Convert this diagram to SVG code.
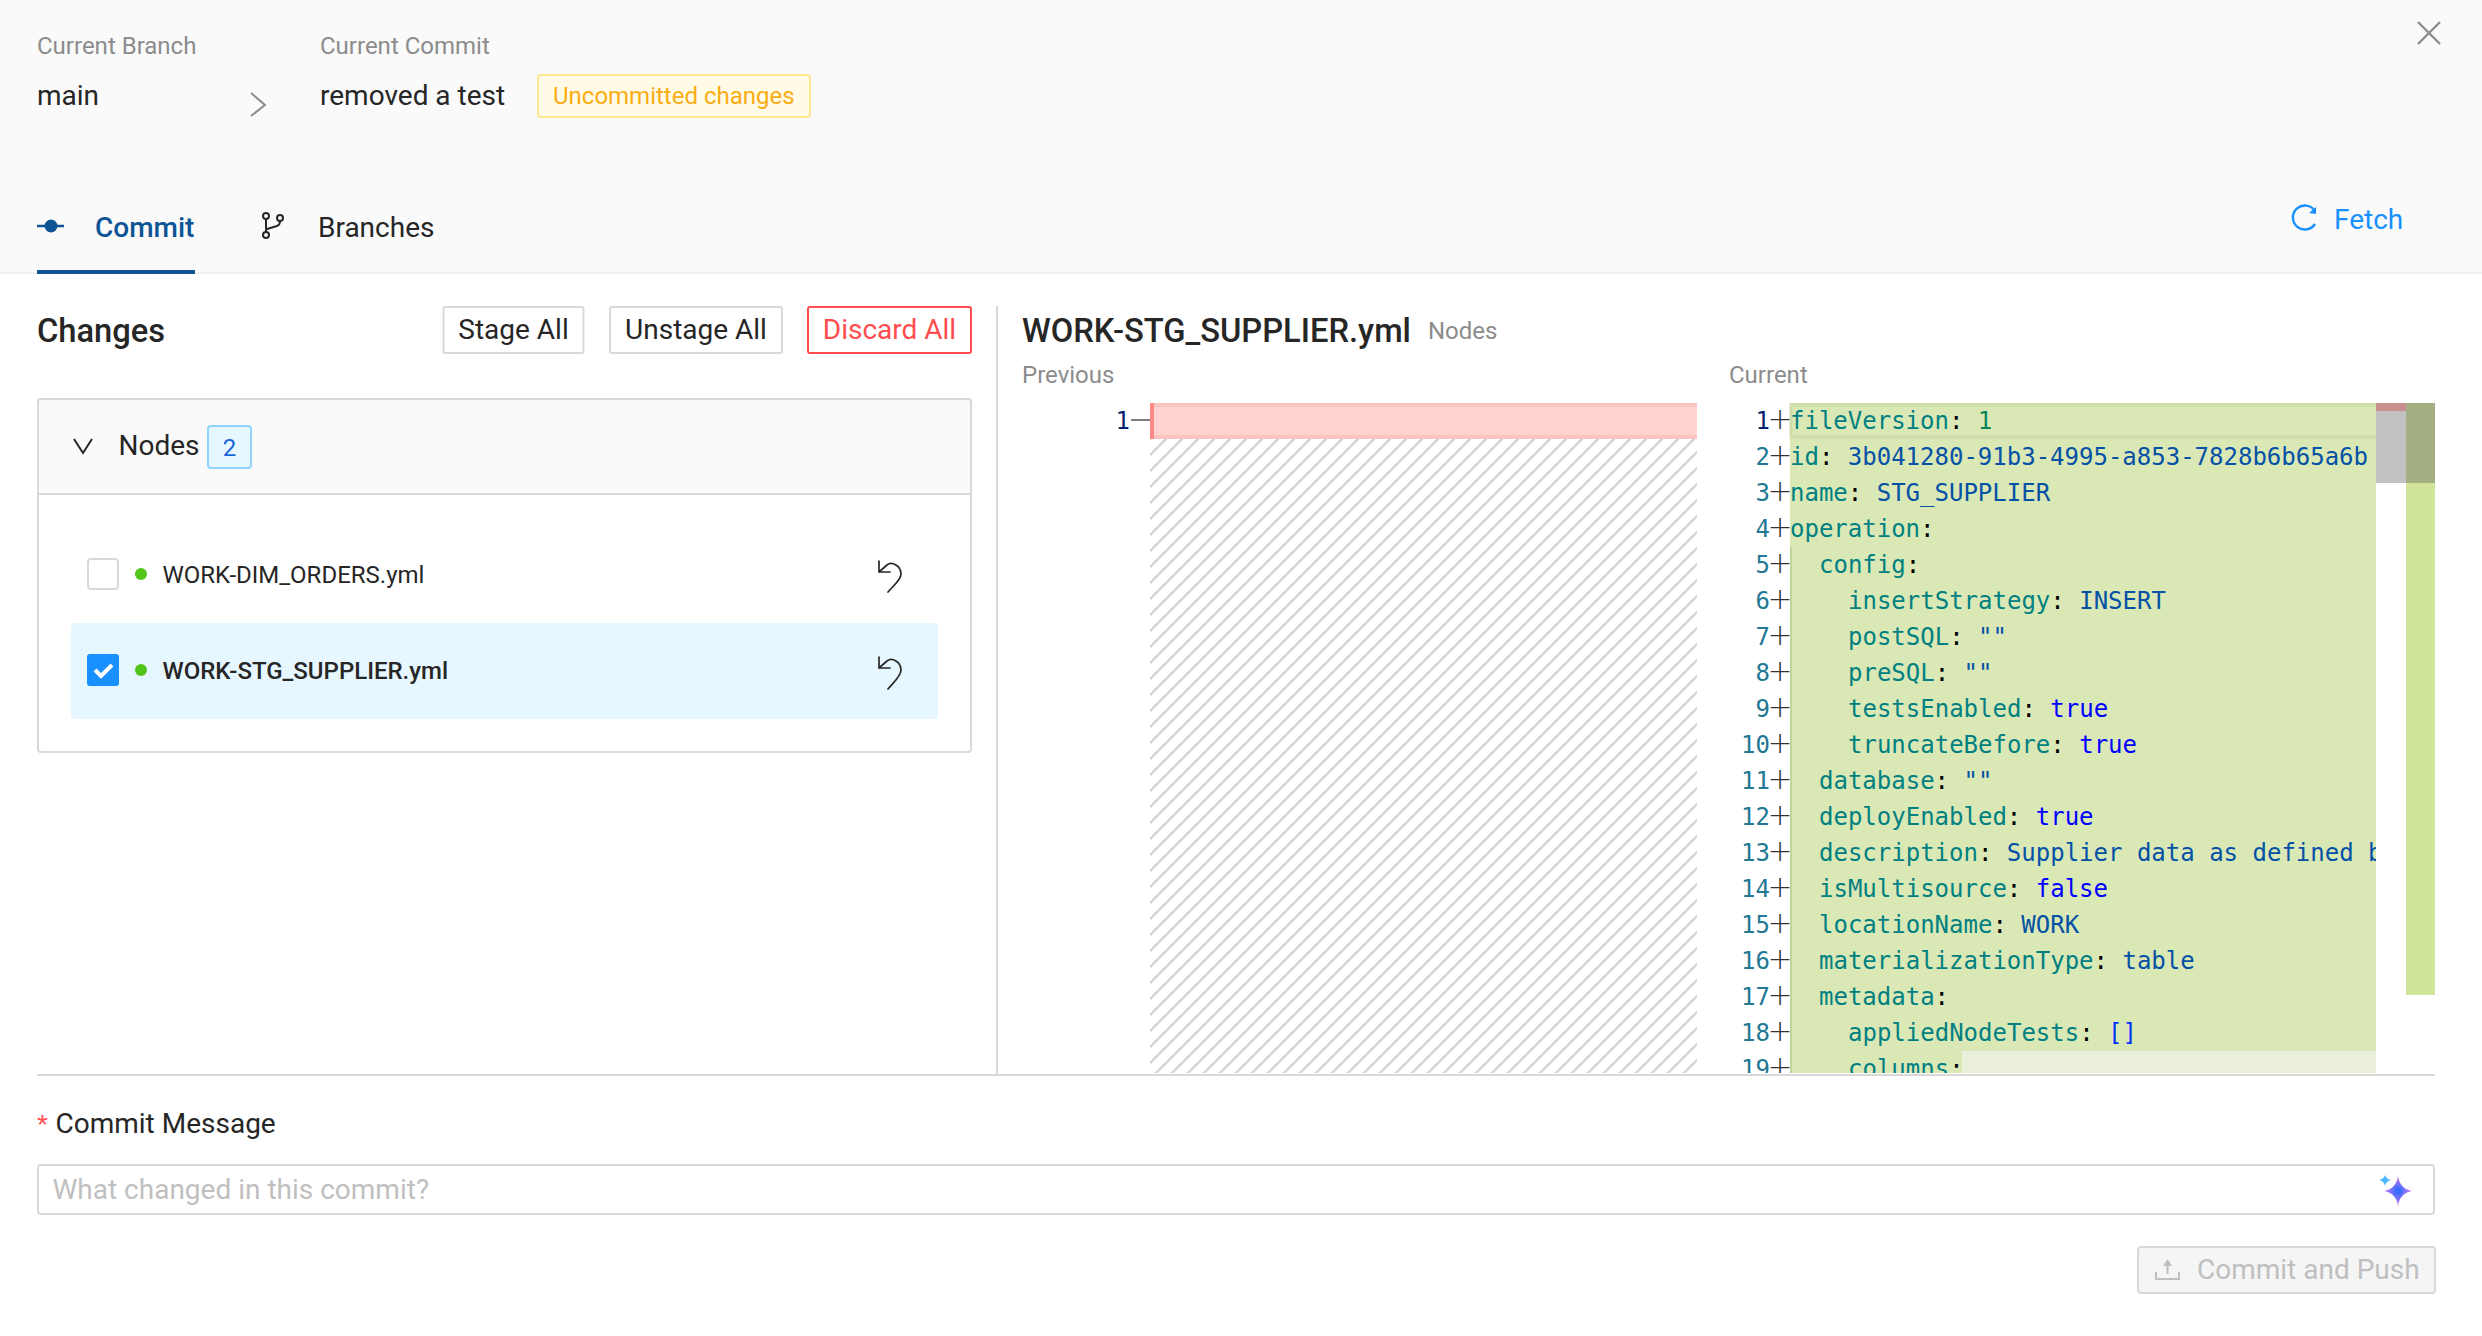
<svg xmlns="http://www.w3.org/2000/svg" width="2482" height="1336" viewBox="0 0 2482 1336">
<style>
text{font-family:Roboto,"Liberation Sans",sans-serif;font-size:28px;fill:#262626}
.s{font-size:24px;fill:#8c8c8c}
.box{fill:#fff;stroke:#d9d9d9;stroke-width:2}
.ln{stroke:#d9d9d9;stroke-width:2;fill:none}
.ic{fill:none;stroke:#262626;stroke-width:2;stroke-linecap:round;stroke-linejoin:round}
.un{fill:none;stroke:#262626;stroke-width:1.700;stroke-linecap:round;stroke-linejoin:round}
.c,.n,.p{font-family:"DejaVu Sans Mono","Liberation Mono",monospace;font-size:24px}
.c{fill:#000}
.n{fill:#237893;text-anchor:end}
.p{font-family:"DejaVu Sans",sans-serif;font-weight:200;font-size:30px;fill:#333;text-anchor:middle}
.k{fill:#008080}.v{fill:#0451a5}.t{fill:#0000ff}.m{fill:#098658}.b{fill:#0431fa}
</style>
<defs>
<pattern id="hatch" width="16" height="16" patternUnits="userSpaceOnUse" patternTransform="translate(1150 439)">
<path d="M-4 4L4 -4M0 16L16 0M12 20L20 12" stroke="#d0d0d0" stroke-width="2.2" fill="none"/>
</pattern>
<clipPath id="codeclip"><rect x="1700" y="403" width="676" height="670"/></clipPath>
<radialGradient id="spark" cx="0.5" cy="0.5" r="0.5"><stop offset="0.15" stop-color="#3a6bff"/><stop offset="0.8" stop-color="#b57bf5"/></radialGradient>
</defs>
<rect width="2482" height="1336" fill="#fff"/>

<g id="header">
<rect width="2482" height="272" fill="#fafafa"/>
<rect y="272" width="2482" height="2" fill="#f0f0f0"/>
<text class="s" x="37" y="54">Current Branch</text>
<text x="37" y="105">main</text>
<path d="M251 93L265 105L251 116" fill="none" stroke="#8c8c8c" stroke-width="2"/>
<text class="s" x="320" y="54">Current Commit</text>
<text x="320" y="105">removed a test</text>
<rect x="538" y="75" width="272" height="42" rx="3" fill="#fffbe6" stroke="#ffe58f" stroke-width="2"/>
<text x="553" y="104" style="font-size:24px;fill:#faad14">Uncommitted changes</text>
<path d="M2418 22L2440 44M2440 22L2418 44" stroke="#8c8c8c" stroke-width="2.400" fill="none"/>
</g>

<g id="tabs">
<g id="tab-commit">
<path d="M37 226H64" stroke="#0f5595" stroke-width="2.500"/>
<circle cx="51" cy="226" r="6.500" fill="#0f5595"/>
<text x="95" y="237" style="fill:#0f5595;font-weight:500">Commit</text>
<rect x="37" y="270" width="158" height="4" fill="#0f5595"/>
</g>
<g id="tab-branches">
<g class="ic"><circle cx="266" cy="216" r="3"/><circle cx="280" cy="218" r="3"/><circle cx="266" cy="235" r="3"/><path d="M266 219V232M267 229L277 226Q280 225 280 221"/></g>
<text x="318" y="237">Branches</text>
</g>
<g id="fetch">
<path d="M2315 211A12 12 0 1 0 2315 224" fill="none" stroke="#1890ff" stroke-width="2.400"/>
<path d="M2309 213L2316 214L2316 207Z" fill="#1890ff"/>
<text x="2334" y="229" style="fill:#1890ff">Fetch</text>
</g>
</g>

<g id="changes">
<text x="37" y="342" style="font-size:32.700px;font-weight:500">Changes</text>
<g id="btn-stage"><rect class="box" x="443.500" y="307" width="140" height="46" rx="2"/><text x="513.500" y="339" text-anchor="middle">Stage All</text></g>
<g id="btn-unstage"><rect class="box" x="610" y="307" width="172" height="46" rx="2"/><text x="696" y="339" text-anchor="middle">Unstage All</text></g>
<g id="btn-discard"><rect x="808" y="307" width="163" height="46" rx="2" fill="#fff" stroke="#ff4d4f" stroke-width="2"/><text x="889.500" y="339" text-anchor="middle" style="fill:#ff4d4f">Discard All</text></g>
<rect x="38" y="399" width="933" height="353" rx="3" class="box"/>
<path d="M38 494V402Q38 399 41 399H968Q971 399 971 402V494Z" fill="#fafafa" stroke="#d9d9d9" stroke-width="2"/>
<path d="M74 439L83 453L92 439" fill="none" stroke="#262626" stroke-width="2"/>
<text x="118.500" y="455">Nodes</text>
<rect x="208" y="426" width="43" height="42" rx="3" fill="#e6f7ff" stroke="#91d5ff" stroke-width="2"/>
<text x="229.500" y="456" text-anchor="middle" style="font-size:24px;fill:#1565dc">2</text>
<g id="file-dim-orders">
<rect x="88" y="559" width="30" height="30" rx="3" class="box"/>
<circle cx="141" cy="574" r="6" fill="#52c41a"/>
<text x="162.500" y="583" style="font-size:24px">WORK-DIM_ORDERS.yml</text>
<path class="un" d="M879 561V572H890M879 572L887 565C892 561 901 566 901 574C901 580 894 585 888 592"/>
</g>
<g id="file-stg-supplier">
<rect x="71" y="623" width="867" height="96" rx="4" fill="#e6f7ff"/>
<rect x="87" y="654" width="32" height="32" rx="3" fill="#1890ff"/>
<path d="M95 670L101 676L112 665" fill="none" stroke="#fff" stroke-width="4"/>
<circle cx="141" cy="670" r="6" fill="#52c41a"/>
<text x="162.500" y="679" style="font-size:24px;font-weight:500">WORK-STG_SUPPLIER.yml</text>
<path class="un" d="M879 657V668H890M879 668L887 661C892 657 901 662 901 670C901 676 894 682 888 689"/>
</g>
<rect x="996" y="306" width="2" height="769" fill="#d9d9d9"/>
</g>

<g id="diff-title">
<text x="1022" y="342" style="font-size:32.700px;font-weight:500">WORK-STG_SUPPLIER.yml</text>
<text class="s" x="1428" y="339">Nodes</text>
<text class="s" x="1022" y="383">Previous</text>
<text class="s" x="1729" y="383">Current</text>
</g>

<g id="diff-previous">
<rect x="1150" y="439" width="547" height="634" fill="url(#hatch)"/>
<rect x="1150" y="403" width="547" height="36" fill="#ffd2cf"/>
<path d="M1154 405H1697M1154 437H1697" stroke="#f8c4c2" stroke-width="4"/>
<rect x="1150" y="403" width="4" height="36" fill="#ff8a85"/>
<text class="n" x="1130" y="429" style="fill:#0b216f">1</text>
<path d="M1131 420H1150" stroke="#555" stroke-width="1.500"/>
</g>

<g id="diff-current">
<rect x="1790" y="403" width="586" height="670" fill="#dae8b6"/>
<path d="M1790 405H2376M1790 437H2376" stroke="#d0dfaa" stroke-width="4"/>
<path d="M1791 403V439" stroke="#d0dfaa" stroke-width="3"/>
<rect x="1962" y="1051" width="414" height="22" fill="#ebf0dc"/>
<rect x="1790" y="547" width="2" height="526" fill="#c1d49a"/>
<g clip-path="url(#codeclip)">
<text class="n" x="1770" y="429" style="fill:#0b216f">1</text>
<text class="n" x="1770" y="465">2</text><text class="n" x="1770" y="501">3</text><text class="n" x="1770" y="537">4</text><text class="n" x="1770" y="573">5</text><text class="n" x="1770" y="609">6</text><text class="n" x="1770" y="645">7</text><text class="n" x="1770" y="681">8</text><text class="n" x="1770" y="717">9</text><text class="n" x="1770" y="753">10</text><text class="n" x="1770" y="789">11</text><text class="n" x="1770" y="825">12</text><text class="n" x="1770" y="861">13</text><text class="n" x="1770" y="897">14</text><text class="n" x="1770" y="933">15</text><text class="n" x="1770" y="969">16</text><text class="n" x="1770" y="1005">17</text><text class="n" x="1770" y="1041">18</text><text class="n" x="1770" y="1077">19</text>
<text class="p" x="1780" y="429">+</text><text class="p" x="1780" y="465">+</text><text class="p" x="1780" y="501">+</text><text class="p" x="1780" y="537">+</text><text class="p" x="1780" y="573">+</text><text class="p" x="1780" y="609">+</text><text class="p" x="1780" y="645">+</text><text class="p" x="1780" y="681">+</text><text class="p" x="1780" y="717">+</text><text class="p" x="1780" y="753">+</text><text class="p" x="1780" y="789">+</text><text class="p" x="1780" y="825">+</text><text class="p" x="1780" y="861">+</text><text class="p" x="1780" y="897">+</text><text class="p" x="1780" y="933">+</text><text class="p" x="1780" y="969">+</text><text class="p" x="1780" y="1005">+</text><text class="p" x="1780" y="1041">+</text><text class="p" x="1780" y="1077">+</text>
<text class="c" x="1790" y="429"><tspan class="k">fileVersion</tspan>: <tspan class="m">1</tspan></text>
<text class="c" x="1790" y="465"><tspan class="k">id</tspan>: <tspan class="v">3b041280-91b3-4995-a853-7828b6b65a6b</tspan></text>
<text class="c" x="1790" y="501"><tspan class="k">name</tspan>: <tspan class="v">STG_SUPPLIER</tspan></text>
<text class="c" x="1790" y="537"><tspan class="k">operation</tspan>:</text>
<text class="c" x="1819" y="573"><tspan class="k">config</tspan>:</text>
<text class="c" x="1848" y="609"><tspan class="k">insertStrategy</tspan>: <tspan class="v">INSERT</tspan></text>
<text class="c" x="1848" y="645"><tspan class="k">postSQL</tspan>: <tspan class="v">""</tspan></text>
<text class="c" x="1848" y="681"><tspan class="k">preSQL</tspan>: <tspan class="v">""</tspan></text>
<text class="c" x="1848" y="717"><tspan class="k">testsEnabled</tspan>: <tspan class="t">true</tspan></text>
<text class="c" x="1848" y="753"><tspan class="k">truncateBefore</tspan>: <tspan class="t">true</tspan></text>
<text class="c" x="1819" y="789"><tspan class="k">database</tspan>: <tspan class="v">""</tspan></text>
<text class="c" x="1819" y="825"><tspan class="k">deployEnabled</tspan>: <tspan class="t">true</tspan></text>
<text class="c" x="1819" y="861"><tspan class="k">description</tspan>: <tspan class="v">Supplier data as defined b</tspan></text>
<text class="c" x="1819" y="897"><tspan class="k">isMultisource</tspan>: <tspan class="t">false</tspan></text>
<text class="c" x="1819" y="933"><tspan class="k">locationName</tspan>: <tspan class="v">WORK</tspan></text>
<text class="c" x="1819" y="969"><tspan class="k">materializationType</tspan>: <tspan class="v">table</tspan></text>
<text class="c" x="1819" y="1005"><tspan class="k">metadata</tspan>:</text>
<text class="c" x="1848" y="1041"><tspan class="k">appliedNodeTests</tspan>: <tspan class="b">[]</tspan></text>
<text class="c" x="1848" y="1077"><tspan class="k">columns</tspan>:</text>
</g>
<rect x="2376" y="403" width="30" height="80" fill="#c1c1c1"/>
<rect x="2376" y="403" width="30" height="8" fill="#c78f8d"/>
<rect x="2406" y="403" width="29" height="80" fill="#a4af84"/>
<rect x="2406" y="483" width="29" height="512" fill="#d0e49c"/>
</g>
<rect x="37" y="1074" width="2398" height="2" fill="#d9d9d9"/>

<g id="commit-form">
<text x="37" y="1134" style="font-size:28px;fill:#ff4d4f;font-family:'Liberation Sans',sans-serif">*</text>
<text x="55.500" y="1133">Commit Message</text>
<rect x="38" y="1165" width="2396" height="49" rx="3" class="box"/>
<text x="52.500" y="1199" style="fill:#bfbfbf">What changed in this commit?</text>
<path d="M2398 1176Q2400 1189 2412 1191Q2400 1193 2398 1206Q2396 1193 2384 1191Q2396 1189 2398 1176Z" fill="url(#spark)"/>
<path d="M2385 1175Q2386 1179 2391 1180Q2386 1181 2385 1186Q2384 1181 2379 1180Q2384 1179 2385 1175Z" fill="#4db4ff"/>
<g id="btn-commit-push">
<rect x="2138" y="1247" width="297" height="46" rx="3" fill="#f5f5f5" stroke="#d9d9d9" stroke-width="2"/>
<path d="M2156 1272V1279H2179V1272M2167.500 1261V1274" fill="none" stroke="#bfbfbf" stroke-width="2"/>
<path d="M2163 1266L2167.500 1259L2172 1266Z" fill="#bfbfbf"/>
<text x="2197" y="1279" style="fill:#bfbfbf">Commit and Push</text>
</g>
</g>
</svg>
